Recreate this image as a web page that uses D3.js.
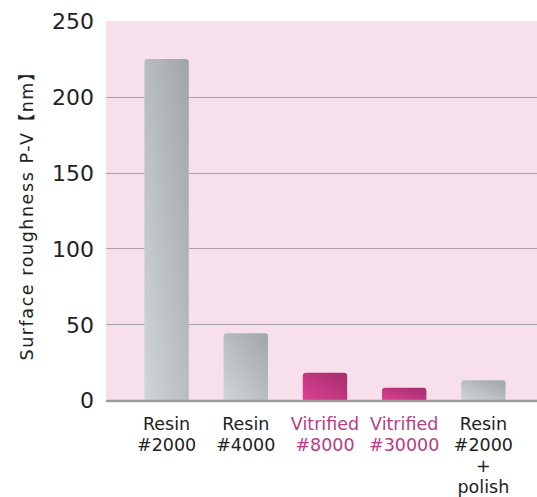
<!DOCTYPE html>
<html>
<head>
<meta charset="utf-8">
<script src="https://cdn.jsdelivr.net/npm/d3@7"></script>
<style>
  html, body { margin: 0; padding: 0; background: #fff; }
  svg { display: block; }
  text { font-family: "DejaVu Sans", "Noto Sans CJK JP", sans-serif; }
</style>
</head>
<body>
<svg id="chart" width="537" height="497"></svg>
<script>
// Surface roughness (P-V, nm) by grinding wheel type
const categories = ["Resin #2000", "Resin #4000", "Vitrified #8000", "Vitrified #30000", "Resin #2000 + polish"];
const labelLines = [["Resin", "#2000"], ["Resin", "#4000"], ["Vitrified", "#8000"], ["Vitrified", "#30000"], ["Resin", "#2000", "+", "polish"]];
const kinds = ["resin", "resin", "vitrified", "vitrified", "resin"];
const values = [225, 44, 18, 8, 13];
const yTicks = [0, 50, 100, 150, 200, 250];
const yTitle = "Surface roughness P-V【nm】";

const svg = d3.select("#chart");
const plot = { left: 106, right: 537, top: 21, bottom: 400 };

const y = d3.scaleLinear().domain([0, 250]).range([plot.bottom, plot.top]);
const x = d3.scaleBand().domain(categories).range([127, 523]).paddingInner(0.44).paddingOuter(0.22);

// diagonal gradients, light at bottom-left, dark at top-right
const defs = svg.append("defs");
function grad(id, light, dark) {
  const g = defs.append("linearGradient").attr("id", id)
    .attr("x1", 0).attr("y1", 1).attr("x2", 1).attr("y2", 0);
  g.append("stop").attr("offset", "0%").attr("stop-color", light);
  g.append("stop").attr("offset", "100%").attr("stop-color", dark);
}
grad("g-resin", "#d0d5d7", "#a1a5a7");
grad("g-vitrified", "#dc4194", "#a32d6c");

// plot background
svg.append("rect")
  .attr("x", plot.left).attr("y", plot.top)
  .attr("width", plot.right - plot.left).attr("height", plot.bottom - plot.top)
  .attr("fill", "#f7dfeb");

// gridlines
svg.append("g").selectAll("line").data(yTicks.filter(d => d > 0 && d < 250)).join("line")
  .attr("x1", plot.left).attr("x2", plot.right)
  .attr("y1", d => Math.round(y(d)) + 0.5).attr("y2", d => Math.round(y(d)) + 0.5)
  .attr("stroke", "#a9a3a7").attr("stroke-width", 1.2);

// bars with rounded tops
const r = 3;
function barPath(d, i) {
  const x0 = x(categories[i]), w = x.bandwidth();
  const y0 = y(d), y1 = y(0);
  return `M${x0},${y1} V${y0 + r} Q${x0},${y0} ${x0 + r},${y0} H${x0 + w - r} Q${x0 + w},${y0} ${x0 + w},${y0 + r} V${y1} Z`;
}
svg.append("g").selectAll("path").data(values).join("path")
  .attr("d", barPath)
  .attr("fill", (d, i) => kinds[i] === "resin" ? "url(#g-resin)" : "url(#g-vitrified)");

// baseline
svg.append("line")
  .attr("x1", plot.left).attr("x2", plot.right)
  .attr("y1", y(0) + 1).attr("y2", y(0) + 1)
  .attr("stroke", "#9c9c9c").attr("stroke-width", 2.5);

// y axis labels
const yAxis = d3.axisLeft(y).tickValues(yTicks).tickSize(0).tickPadding(0);
const yg = svg.append("g").attr("transform", `translate(94,0)`).call(yAxis);
yg.select(".domain").remove();
yg.selectAll("text")
  .attr("font-size", 22).attr("fill", "#222")
  .attr("font-family", "\"DejaVu Sans\", sans-serif")
  .attr("dy", "0.36em");

// y title
svg.append("text")
  .attr("transform", `translate(33,212) rotate(-90)`)
  .attr("text-anchor", "middle")
  .attr("font-size", 17.5).attr("fill", "#222")
  .attr("textLength", 297).attr("lengthAdjust", "spacing")
  .text(yTitle);

// category labels, one text per line
const xg = svg.append("g");
categories.forEach((c, i) => {
  const cx = x(c) + x.bandwidth() / 2;
  labelLines[i].forEach((ln, j) => {
    xg.append("text")
      .attr("x", cx).attr("y", 430 + j * 21)
      .attr("text-anchor", "middle")
      .attr("font-size", 17.5)
      .attr("fill", kinds[i] === "vitrified" ? "#b83a83" : "#222")
      .text(ln);
  });
});
</script>
</body>
</html>
